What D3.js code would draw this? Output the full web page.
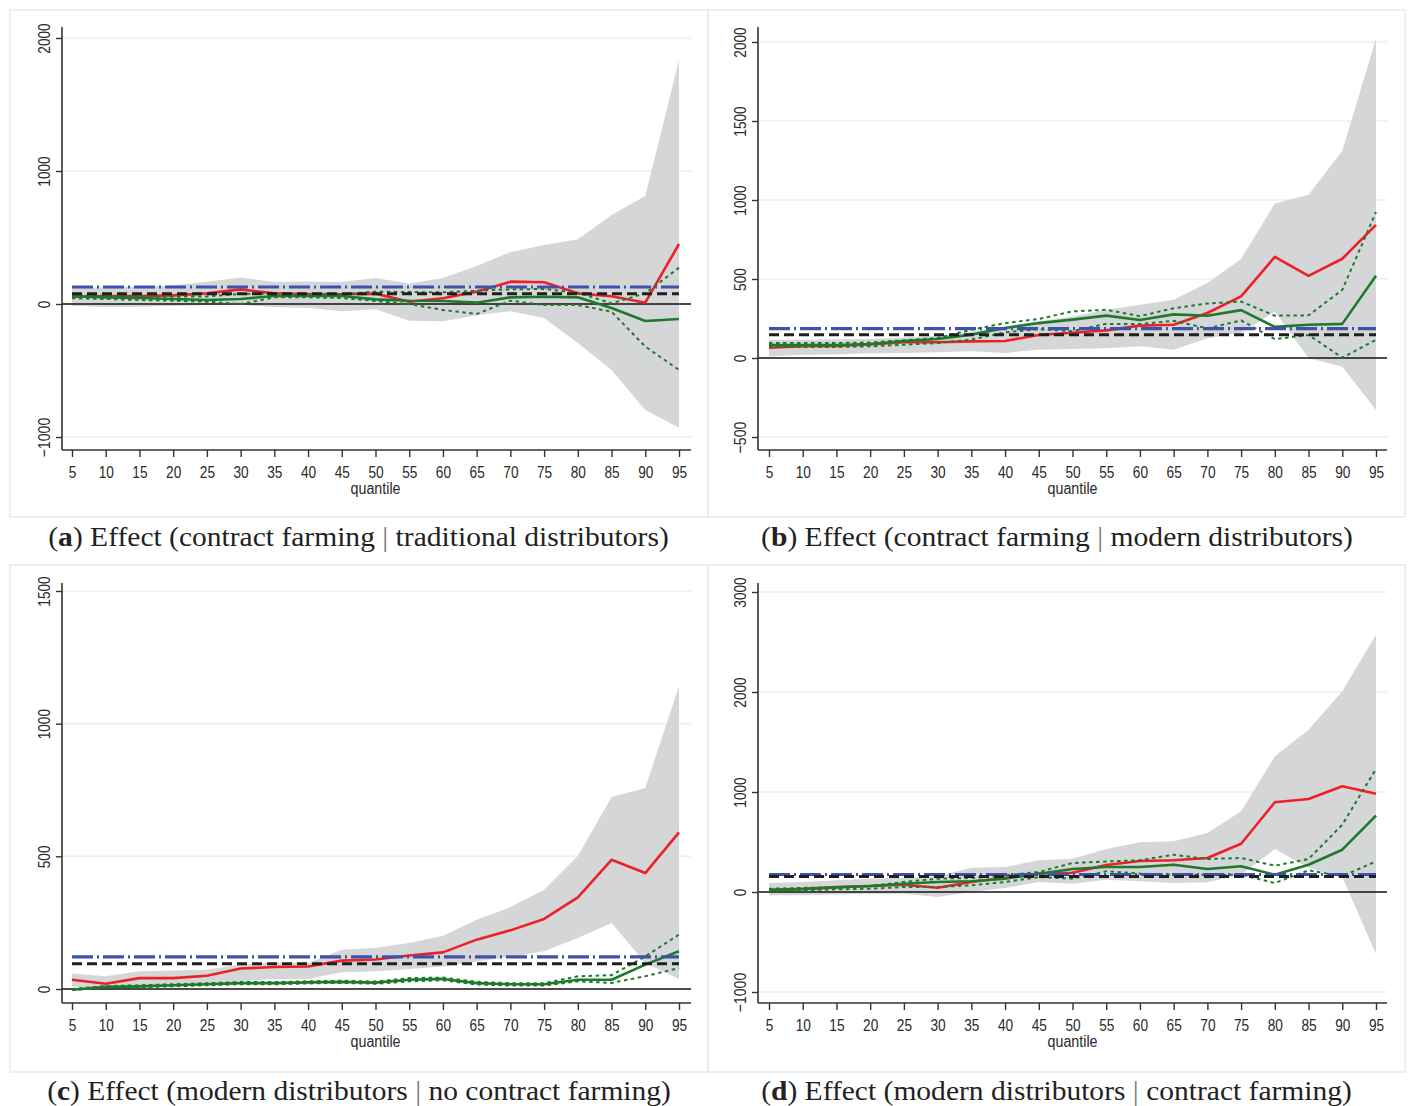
<!DOCTYPE html>
<html>
<head>
<meta charset="utf-8">
<script src="https://cdn.jsdelivr.net/npm/d3@7"></script>
<style>
  body { margin: 0; background: #fff; }
  .tick-label { font-family: "Liberation Sans", Arial, sans-serif; font-size: 17px; fill: #2a2a2a; }
  .caption { font-family: "Liberation Serif", "DejaVu Serif", serif; font-size: 28px; fill: #222; }
</style>
</head>
<body>
<svg id="fig" width="1408" height="1106"></svg>
<script>
// Quantiles on the horizontal axis
const quantiles = [5, 10, 15, 20, 25, 30, 35, 40, 45, 50, 55, 60, 65, 70, 75, 80, 85, 90, 95];

// (a) contract farming | traditional distributors
const aEffect  = [55, 60, 60, 65, 80, 110, 80, 75, 73, 78, 17, 43, 93, 168, 163, 80, 58, 10, 451];
const aCiLow   = [-15, -22, -20, -15, -8, -5, -25, -28, -55, -40, -125, -130, -85, -55, -105, -294, -496, -797, -930];
const aCiHigh  = [120, 125, 130, 140, 168, 200, 165, 170, 165, 195, 155, 195, 285, 390, 443, 486, 669, 812, 1834];
const aAlt     = [58, 50, 45, 38, 30, 38, 60, 60, 60, 35, 25, 23, 10, 50, 55, 50, -30, -128, -113];
const aAltLow  = [43, 38, 30, 25, 17, 0, 50, 50, 45, 23, 0, -45, -75, 25, -8, -8, -58, -320, -496];
const aAltHigh = [68, 60, 57, 55, 57, 75, 80, 73, 73, 93, 90, 88, 100, 110, 113, 85, 5, 80, 273];
const aMeanBlue = 128;
const aMeanBlack = 78;
const aTicks = [-1000, 0, 1000, 2000];

// (b) contract farming | modern distributors
const bEffect  = [65, 74, 76, 86, 100, 100, 105, 108, 146, 160, 175, 205, 210, 285, 390, 640, 520, 628, 843];
const bCiLow   = [10, 20, 22, 30, 32, 36, 42, 32, 53, 57, 61, 74, 53, 125, 160, 293, 0, -55, -329];
const bCiHigh  = [114, 116, 118, 120, 130, 140, 168, 200, 232, 263, 305, 337, 368, 474, 627, 978, 1033, 1312, 2020];
const bAlt     = [82, 82, 82, 89, 107, 120, 148, 190, 221, 243, 268, 240, 276, 267, 303, 197, 210, 216, 521];
const bAltLow  = [70, 70, 70, 74, 84, 95, 116, 162, 183, 169, 216, 215, 235, 187, 238, 119, 146, 2, 115];
const bAltHigh = [95, 95, 95, 98, 112, 127, 179, 221, 247, 295, 305, 265, 315, 345, 357, 268, 270, 431, 924];
const bMeanBlue = 186;
const bMeanBlack = 147;
const bTicks = [-500, 0, 500, 1000, 1500, 2000];

// (c) modern distributors | no contract farming
const cEffect  = [35, 20, 41, 41, 50, 77, 83, 85, 107, 111, 126, 138, 186, 221, 264, 345, 487, 437, 590];
const cCiLow   = [10, -5, 4, 10, 16, 29, 38, 38, 63, 67, 75, 85, 104, 121, 142, 192, 249, 98, 38];
const cCiHigh  = [58, 48, 67, 70, 73, 92, 100, 98, 148, 155, 173, 201, 261, 309, 374, 501, 724, 758, 1142];
const cAlt     = [-3, 8, 10, 14, 18, 22, 22, 25, 27, 24, 35, 38, 22, 18, 18, 35, 35, 92, 142];
const cAltLow  = [-4, 5, 7, 10, 14, 18, 18, 21, 23, 20, 29, 33, 17, 13, 13, 29, 23, 48, 79];
const cAltHigh = [0, 11, 14, 18, 22, 26, 26, 29, 31, 28, 41, 43, 27, 22, 22, 48, 52, 123, 205];
const cMeanBlue = 121;
const cMeanBlack = 95;
const cTicks = [0, 500, 1000, 1500];

// (d) modern distributors | contract farming
const dEffect  = [23, 33, 50, 60, 73, 43, 100, 143, 185, 193, 270, 310, 317, 340, 483, 897, 930, 1057, 983];
const dCiLow   = [-33, -33, -25, -17, -17, -50, 0, 40, 100, 83, 123, 107, 90, 97, 173, 430, 240, 150, -620];
const dCiHigh  = [90, 100, 117, 133, 143, 157, 243, 250, 317, 333, 430, 497, 507, 590, 807, 1357, 1623, 2007, 2573];
const dAlt     = [17, 27, 45, 60, 83, 100, 107, 133, 183, 230, 250, 250, 273, 230, 257, 173, 273, 423, 763];
const dAltLow  = [7, 17, 27, 33, 50, 50, 67, 100, 150, 133, 207, 183, 173, 173, 173, 90, 217, 157, 307];
const dAltHigh = [33, 40, 50, 60, 100, 133, 140, 167, 200, 290, 305, 317, 373, 330, 340, 263, 330, 673, 1230];
const dMeanBlue = 175;
const dMeanBlack = 155;
const dTicks = [-1000, 0, 1000, 2000, 3000];

// Panel captions: [letter, first condition, second condition]
const captions = [
  ["a", "contract farming", "traditional distributors"],
  ["b", "contract farming", "modern distributors"],
  ["c", "modern distributors", "no contract farming"],
  ["d", "modern distributors", "contract farming"]
];

const svg = d3.select("#fig");

const COLORS = {
  band: "#d5d6d8",
  effect: "#ec2026",
  alt: "#1d7a2c",
  blue: "#3f51a8",
  black: "#1f1f1f",
  grid: "#e9f1f3",
  frame: "#e6e9eb",
  axis: "#333"
};

// Layout of the four panels
const layout = [
  { left: 62, right: 691, top: 27, bottom: 450, x0: 72, x1: 679, frame: [10, 10, 698, 507], capX: 358.5, capY: 546, capW: 621,
    domain: [-1000, 2000], range: [437, 38] },
  { left: 758, right: 1387, top: 27, bottom: 450, x0: 769, x1: 1376, frame: [708, 10, 697, 507], capX: 1057, capY: 546, capW: 592,
    domain: [-500, 2000], range: [437, 42] },
  { left: 62, right: 691, top: 583, bottom: 1003, x0: 72, x1: 679, frame: [10, 565, 698, 507], capX: 359, capY: 1100, capW: 624,
    domain: [0, 1500], range: [989, 591] },
  { left: 758, right: 1387, top: 583, bottom: 1003, x0: 769, x1: 1376, frame: [708, 565, 697, 507], capX: 1056.5, capY: 1100, capW: 591,
    domain: [-1000, 3000], range: [992, 592] }
];

const series = [
  { effect: aEffect, lo: aCiLow, hi: aCiHigh, alt: aAlt, altLo: aAltLow, altHi: aAltHigh, blue: aMeanBlue, black: aMeanBlack, ticks: aTicks },
  { effect: bEffect, lo: bCiLow, hi: bCiHigh, alt: bAlt, altLo: bAltLow, altHi: bAltHigh, blue: bMeanBlue, black: bMeanBlack, ticks: bTicks },
  { effect: cEffect, lo: cCiLow, hi: cCiHigh, alt: cAlt, altLo: cAltLow, altHi: cAltHigh, blue: cMeanBlue, black: cMeanBlack, ticks: cTicks },
  { effect: dEffect, lo: dCiLow, hi: dCiHigh, alt: dAlt, altLo: dAltLow, altHi: dAltHigh, blue: dMeanBlue, black: dMeanBlack, ticks: dTicks }
];

const fmt = d => d < 0 ? "\u2212" + Math.abs(d) : String(d);

// condensed look for axis labels: squeeze each label to a narrow advance per character
function condense(sel) {
  sel.each(function () {
    const s = this.textContent;
    let w = 0;
    for (const ch of s) w += ch === "\u2212" ? 9 : 7.6;
    d3.select(this).attr("textLength", w).attr("lengthAdjust", "spacingAndGlyphs");
  });
}

layout.forEach((L, i) => {
  const S = series[i];
  const g = svg.append("g");

  // light frame around the graph region
  g.append("rect")
    .attr("x", L.frame[0]).attr("y", L.frame[1])
    .attr("width", L.frame[2]).attr("height", L.frame[3])
    .attr("fill", "none").attr("stroke", COLORS.frame).attr("stroke-width", 1.5);

  const x = d3.scaleLinear().domain([5, 95]).range([L.x0, L.x1]);
  const y = d3.scaleLinear().domain(L.domain).range(L.range);

  // horizontal grid lines
  g.selectAll(".grid").data(S.ticks.filter(t => t !== 0)).join("line")
    .attr("x1", L.left).attr("x2", L.right)
    .attr("y1", d => y(d)).attr("y2", d => y(d))
    .attr("stroke", COLORS.grid).attr("stroke-width", 1.6);

  // confidence band of the effect
  const area = d3.area()
    .x((d, k) => x(quantiles[k]))
    .y0((d, k) => y(S.lo[k]))
    .y1((d, k) => y(S.hi[k]));
  g.append("path").datum(quantiles).attr("d", area).attr("fill", COLORS.band);

  const line = arr => d3.line().x((d, k) => x(quantiles[k])).y((d, k) => y(arr[k]))(quantiles);

  // zero reference
  g.append("line")
    .attr("x1", L.left).attr("x2", L.right)
    .attr("y1", y(0)).attr("y2", y(0))
    .attr("stroke", "#111").attr("stroke-width", 1.6);

  // effect estimate
  g.append("path").attr("d", line(S.effect))
    .attr("fill", "none").attr("stroke", COLORS.effect).attr("stroke-width", 2.6)
    .attr("stroke-linejoin", "round");

  // alternative estimate and its bounds
  g.append("path").attr("d", line(S.alt))
    .attr("fill", "none").attr("stroke", COLORS.alt).attr("stroke-width", 2.6)
    .attr("stroke-linejoin", "round");
  [S.altLo, S.altHi].forEach(arr => {
    g.append("path").attr("d", line(arr))
      .attr("fill", "none").attr("stroke", COLORS.alt).attr("stroke-width", 2)
      .attr("stroke-dasharray", "3.5,3.5");
  });

  // average effects
  g.append("line")
    .attr("x1", x(5)).attr("x2", x(95))
    .attr("y1", y(S.blue)).attr("y2", y(S.blue))
    .attr("stroke", COLORS.blue).attr("stroke-width", 3.2)
    .attr("stroke-dasharray", "21,4,2,4");
  g.append("line")
    .attr("x1", x(5)).attr("x2", x(95))
    .attr("y1", y(S.black)).attr("y2", y(S.black))
    .attr("stroke", COLORS.black).attr("stroke-width", 3)
    .attr("stroke-dasharray", "10,5");

  // x axis
  const xAxis = d3.axisBottom(x).tickValues(quantiles).tickSize(7).tickSizeOuter(0).tickPadding(6);
  const gx = g.append("g").attr("transform", `translate(0,${L.bottom})`).call(xAxis);
  gx.select(".domain").remove();
  gx.selectAll(".tick line").attr("stroke", COLORS.axis).attr("stroke-width", 1.4);
  gx.selectAll(".tick text").attr("class", "tick-label").attr("font-family", null).attr("font-size", null)
    .attr("fill", null).attr("dy", null).attr("y", 28).call(condense);
  g.append("line").attr("x1", L.left).attr("x2", L.right)
    .attr("y1", L.bottom).attr("y2", L.bottom)
    .attr("stroke", COLORS.axis).attr("stroke-width", 1.6);
  g.append("text").attr("class", "tick-label")
    .attr("x", (L.x0 + L.x1) / 2).attr("y", L.bottom + 44)
    .attr("text-anchor", "middle").style("font-size", "16px")
    .attr("textLength", 50).attr("lengthAdjust", "spacingAndGlyphs")
    .text("quantile");

  // y axis
  const yAxis = d3.axisLeft(y).tickValues(S.ticks).tickSize(6).tickSizeOuter(0).tickFormat(fmt);
  const gy = g.append("g").attr("transform", `translate(${L.left},0)`).call(yAxis);
  gy.select(".domain").remove();
  gy.selectAll(".tick line").attr("stroke", COLORS.axis).attr("stroke-width", 1.4);
  gy.selectAll(".tick text").attr("class", "tick-label").attr("font-family", null).attr("font-size", null)
    .attr("fill", null)
    .attr("transform", "rotate(-90)")
    .attr("x", 0).attr("y", -12).attr("dy", null)
    .attr("text-anchor", "middle").call(condense);
  g.append("line").attr("x1", L.left).attr("x2", L.left)
    .attr("y1", L.top).attr("y2", L.bottom)
    .attr("stroke", COLORS.axis).attr("stroke-width", 1.6);

  // caption, stretched to its set width
  const c = captions[i];
  const cg = g.append("g");
  const t = cg.append("text").attr("class", "caption")
    .attr("x", 0).attr("y", 0).attr("text-anchor", "middle");
  t.append("tspan").text("(");
  t.append("tspan").attr("font-weight", "bold").text(c[0]);
  t.append("tspan").text(") Effect (" + c[1] + " ");
  t.append("tspan").attr("fill", "#777").attr("font-weight", "300").text("|");
  t.append("tspan").text(" " + c[2] + ")");
  const w = t.node().getComputedTextLength();
  cg.attr("transform", `translate(${L.capX},${L.capY}) scale(${L.capW / w},1)`);
});
</script>
</body>
</html>
